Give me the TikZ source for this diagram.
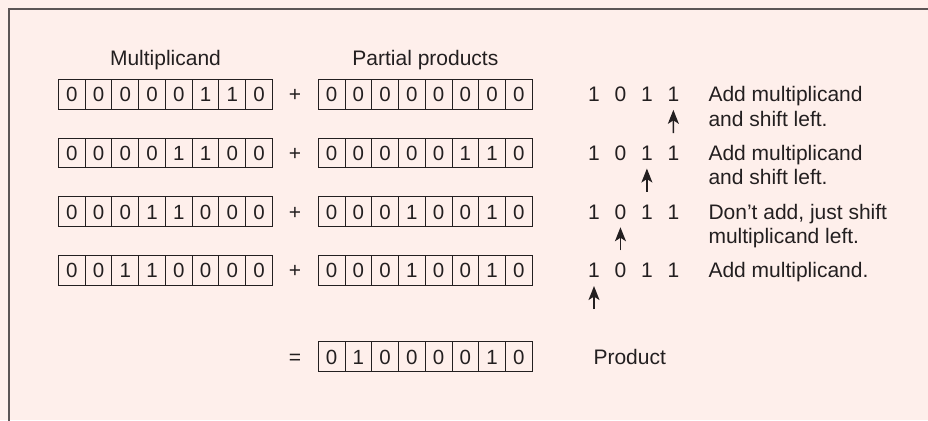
\documentclass[tikz,border=0pt]{standalone}
\usepackage{fontspec}
\setmainfont{Liberation Sans}
\usetikzlibrary{arrows.meta}
\definecolor{bgpink}{HTML}{FEEFEB}
\definecolor{ink}{HTML}{231F20}
\definecolor{framegray}{HTML}{5B5555}
\tikzset{
  cellbox/.style={draw=ink, line width=1pt, minimum width=26.75pt, minimum height=29.7pt,
    inner sep=0pt, text height=15pt, text depth=0pt, text=ink, font=\fontsize{20.5}{24}\selectfont},
  txt/.style={anchor=base, inner sep=0pt, text=ink, font=\fontsize{21}{24}\selectfont},
  txtl/.style={txt, anchor=base west},
  bitnode/.style={inner sep=0pt, text height=15pt, text depth=0pt, text=ink, font=\fontsize{21}{24}\selectfont},
  ptr/.style={draw=ink, line width=1.3pt, shorten >=8pt,
    -{Stealth[length=14pt, width=11pt, inset=3.5pt]}},
}
% one 8-bit register: #1 name prefix, #2 left edge x, #3 centre y, #4 bits
\newcommand{\register}[4]{%
  \foreach \b [count=\i] in {#4} {
    \node[cellbox] (#1\i) at ({#2 + 26.75*(\i-0.5)}, #3) {\b};
  }%
}
\begin{document}
\begin{tikzpicture}[x=1pt, y=-1pt]
  \useasboundingbox (0,0) rectangle (928,420);
  \fill[bgpink] (0,0) rectangle (928,420);
  \draw[framegray, line width=1.2pt] (9,9) rectangle (960,460);

  % column headings
  \node[txt] (hmul) at (165.5,65) {Multiplicand};
  \node[txt] (hpar) at (425.4,65) {Partial products};

  % multiplicand registers
  \register{ma}{58.4}{94.15}{0,0,0,0,0,1,1,0}
  \register{mb}{58.4}{152.85}{0,0,0,0,1,1,0,0}
  \register{mc}{58.4}{211.55}{0,0,0,1,1,0,0,0}
  \register{md}{58.4}{270.35}{0,0,1,1,0,0,0,0}

  % partial product registers
  \register{pa}{318.3}{94.15}{0,0,0,0,0,0,0,0}
  \register{pb}{318.3}{152.85}{0,0,0,0,0,1,1,0}
  \register{pc}{318.3}{211.55}{0,0,0,1,0,0,1,0}
  \register{pd}{318.3}{270.35}{0,0,0,1,0,0,1,0}

  % final product
  \register{pr}{318.3}{356.55}{0,1,0,0,0,0,1,0}

  % operators
  \node[txt] (plusa) at (295,101.65) {+};
  \node[txt] (plusb) at (295,160.35) {+};
  \node[txt] (plusc) at (295,219.05) {+};
  \node[txt] (plusd) at (295,277.85) {+};
  \node[txt] (eq) at (295,364.05) {=};

  % multiplier bits for each step
  \foreach \r/\y in {a/94.15, b/152.85, c/211.55, d/270.35} {
    \foreach \b [count=\i] in {1,0,1,1} {
      \node[bitnode] (bit\r\i) at ({594 + 26.45*(\i-1)}, \y) {\b};
    }
  }

  % pointers to the bit being examined
  \coordinate (tla) at (673.35,133);
  \coordinate (tlb) at (646.9,191.7);
  \coordinate (tlc) at (620.45,250.4);
  \coordinate (tld) at (594,309.2);
  \draw[ptr] (tla) -- (bita4.south);
  \draw[ptr] (tlb) -- (bitb3.south);
  \draw[ptr] (tlc) -- (bitc2.south);
  \draw[ptr] (tld) -- (bitd1.south);

  % step descriptions
  \node[txtl] (sa1) at (708.3,101.65) {Add multiplicand};
  \node[txtl] (sa2) at (708.3,126.2) {and shift left.};
  \node[txtl] (sb1) at (708.3,160.35) {Add multiplicand};
  \node[txtl] (sb2) at (708.3,184.9) {and shift left.};
  \node[txtl] (sc1) at (708.3,219.05) {Don’t add, just shift};
  \node[txtl] (sc2) at (708.3,243.6) {multiplicand left.};
  \node[txtl] (sd1) at (708.3,277.85) {Add multiplicand.};

  \node[txtl] (prod) at (593.3,364.05) {Product};
\end{tikzpicture}
\end{document}
